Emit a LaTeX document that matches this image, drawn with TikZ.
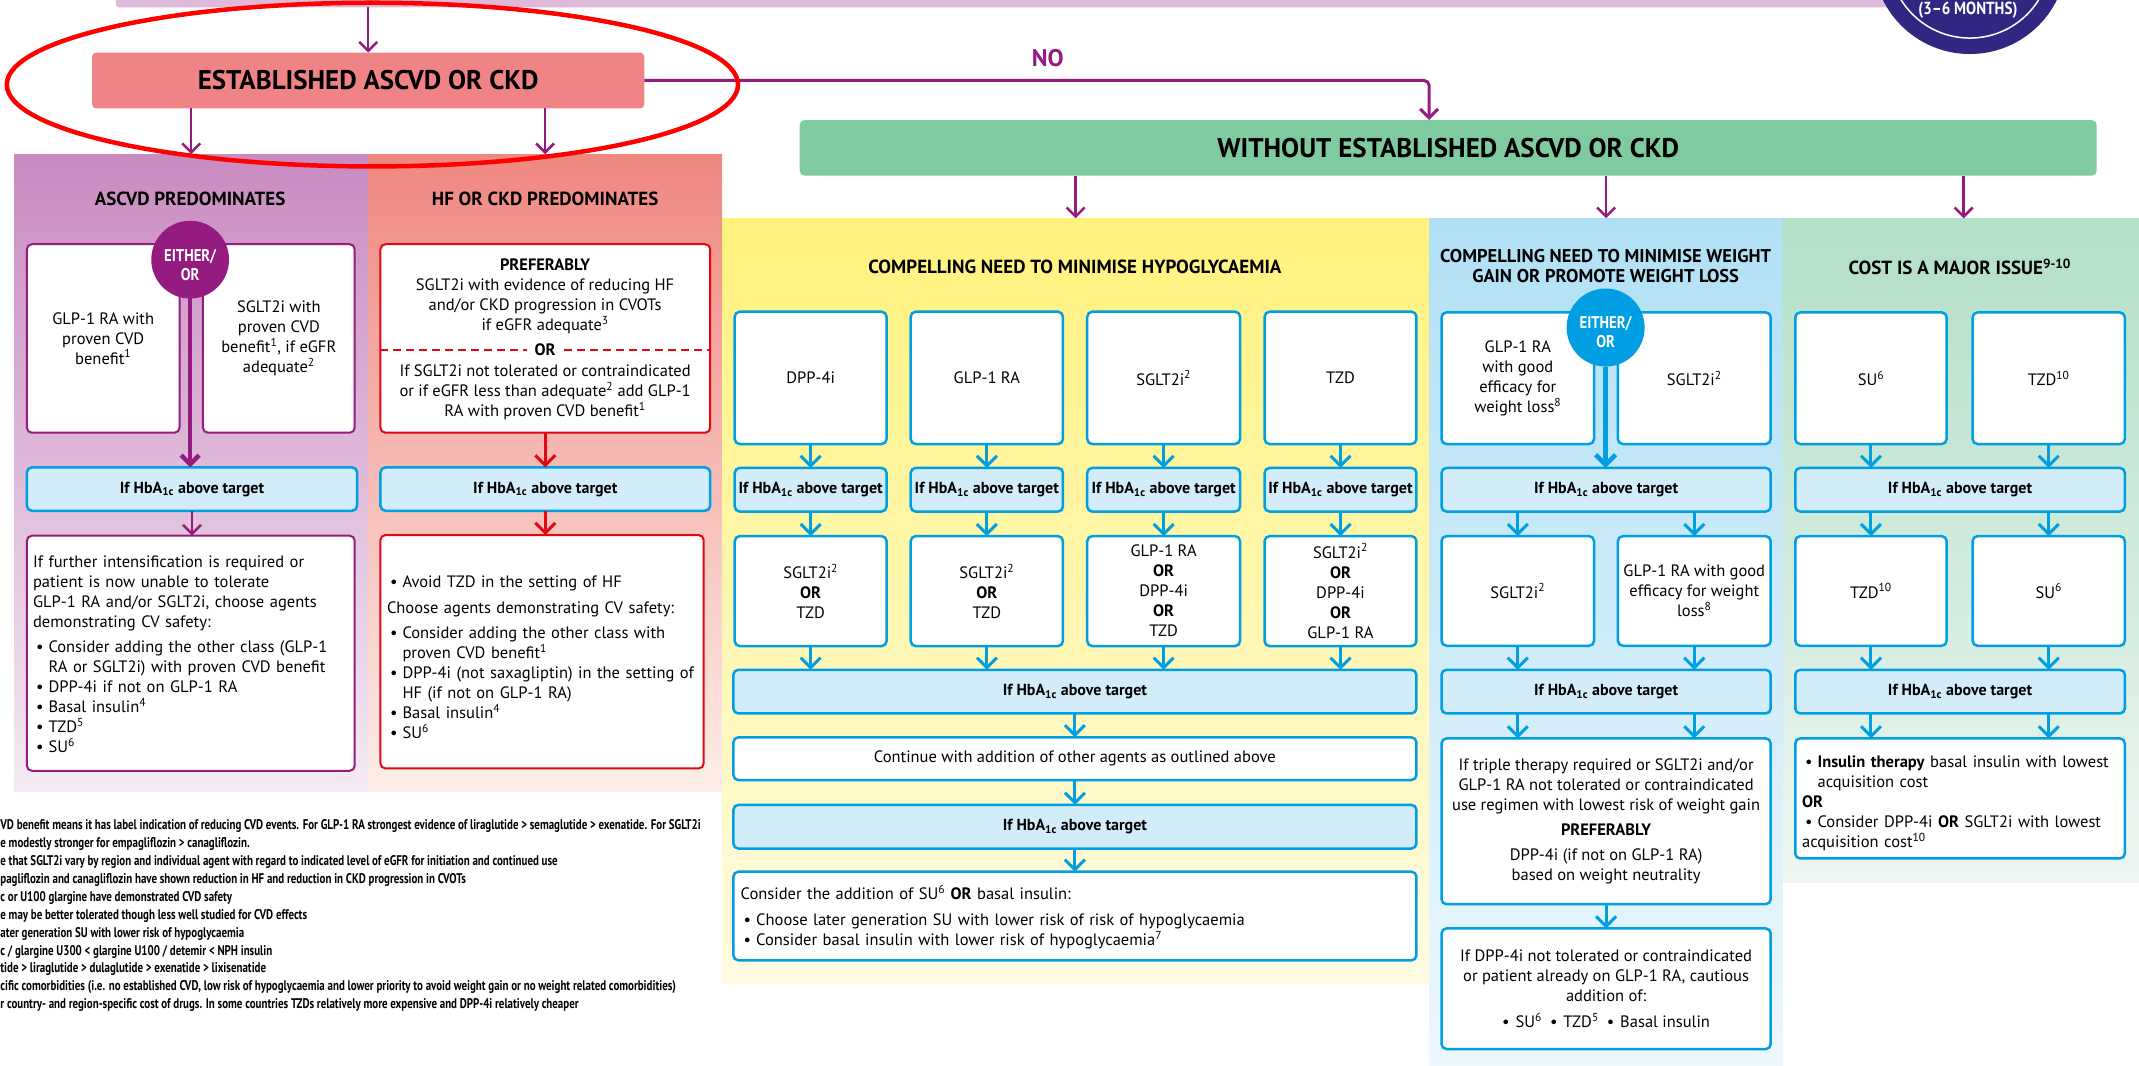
\documentclass[tikz,border=0pt]{standalone}
\usepackage{fontspec}
\setmainfont{PT Sans}
\newfontfamily\cfont{PT Sans}[FakeStretch=0.86]
\newfontfamily\fnfont{PT Sans}[FakeStretch=0.78]
\usetikzlibrary{arrows.meta}
\setlength\parindent{0pt}
\definecolor{cpurple}{HTML}{951B81}
\definecolor{cred}{HTML}{E30613}
\definecolor{cblue}{HTML}{009FE3}
\definecolor{chba}{HTML}{D3ECFA}
\definecolor{cest}{HTML}{F08385}
\definecolor{cwo}{HTML}{80CAA0}
\definecolor{casca}{HTML}{C98BC1}
\definecolor{cascb}{HTML}{F4EAF3}
\definecolor{chfa}{HTML}{F08781}
\definecolor{chfb}{HTML}{FDEEE8}
\definecolor{cyela}{HTML}{FFF27C}
\definecolor{cyelb}{HTML}{FFFBE3}
\definecolor{cblua}{HTML}{B1E0F5}
\definecolor{cblub}{HTML}{EDF8FD}
\definecolor{cgrna}{HTML}{B2DFC7}
\definecolor{cgrnb}{HTML}{EEF6F1}
\definecolor{cband}{HTML}{DFB9DA}
\definecolor{cnavy}{HTML}{312783}
\newcommand\hba{If HbA\textsubscript{1c} above target}
\newcommand\bitem[1]{\par\hangindent=15.5pt\hangafter=1\noindent\makebox[15.5pt][l]{\hspace{3pt}•}#1}
\newcommand\bx[7]{\node[#6, minimum width={((#4)-(#2))*1.3642pt}, minimum height={((#5)-(#3))*1.3642pt}] (#1) at ({((#2)+(#4))/2},{((#3)+(#5))/2}) {#7};}
\tikzset{
  every node/.style={inner sep=0pt, outer sep=0pt, font=\fontsize{16.5}{20}\selectfont},
  wbox/.style={draw, fill=white, rounded corners=5pt, line width=2pt, align=center},
  pbox/.style={wbox, draw=cpurple},
  rbox/.style={wbox, draw=cred},
  bbox/.style={wbox, draw=cblue, line width=2.5pt},
  hbox/.style={bbox, fill=chba, font=\bfseries\fontsize{16}{20}\selectfont},
  ttl/.style={font=\bfseries\fontsize{19}{20}\selectfont, align=center},
  big/.style={font=\bfseries\fontsize{27}{30}\selectfont},
  parr/.style={draw=cpurple, line width=2.5pt, -{Straight Barb[length=9pt,width=18pt]}},
  barr/.style={draw=cblue, line width=3pt, -{Straight Barb[length=10pt,width=20pt]}},
  rarr/.style={draw=cred, line width=3pt, -{Straight Barb[length=10pt,width=20pt]}},
  ltxt/.style={anchor=west, align=left},
  circtxt/.style={text=white, align=center, font=\cfont\bfseries\fontsize{17}{19}\selectfont},
  fn/.style={anchor=west, font=\fnfont\bfseries\fontsize{14}{18}\selectfont},
  rdash/.style={draw=cred, line width=2pt, dash pattern=on 8pt off 5pt}
}
\begin{document}
\begin{tikzpicture}[x=1.3642pt,y=-1.3642pt]
\useasboundingbox (0,0) rectangle (1568,781);
% top band and navy circle
\bx{band}{85}{-10}{1460}{5.4}{fill=cband, rounded corners=3pt}{}
\node[circle, fill=cnavy, minimum size={142.2*1.3642pt}] (navy) at (1444,-31.5) {};
\node[circle, draw=white, line width=1.5pt, minimum size={118.8*1.3642pt}] (ring) at (navy.center) {};
\node[circtxt, font=\cfont\bfseries\fontsize{17.5}{20}\selectfont] (months) at (1442.6,7.5) {(3–6 MONTHS)};
% established
\bx{est}{67.5}{38.6}{472.3}{79.4}{fill=cest, rounded corners=4pt, big}{ESTABLISHED ASCVD OR CKD}
\draw[parr] (band.south -| est.north) -- (est.north);
\node[text=cpurple, font=\bfseries\fontsize{24}{28}\selectfont] (no) at (768,42.8) {NO};
\bx{wo}{586.2}{88}{1537}{128.8}{fill=cwo, rounded corners=5pt, big}{WITHOUT ESTABLISHED ASCVD OR CKD}
\coordinate (nocorner) at (1047.6,59);
\draw[parr, line width=3pt, rounded corners=5pt] (est.east) -- (nocorner) -- (nocorner |- wo.north);
% panels
\bx{ascp}{10.4}{113}{269.9}{580.4}{top color=casca, bottom color=cascb}{}
\bx{hfp}{269.9}{113}{529.3}{580.4}{top color=chfa, bottom color=chfb}{}
\bx{yel}{529.3}{160}{1047.6}{720.7}{top color=cyela, bottom color=cyelb}{}
\bx{blu}{1047.6}{160}{1307}{790}{top color=cblua, bottom color=cblub}{}
\bx{grn}{1307}{160}{1572}{647}{top color=cgrna, bottom color=cgrnb}{}
\draw[parr] (est.south -| ascp.north) -- (ascp.north);
\draw[parr] (est.south -| hfp.north) -- (hfp.north);
\draw[parr] (wo.south -| yel.north) -- (yel.north);
\draw[parr] (wo.south -| blu.north) -- (blu.north);
\draw[parr] (wo.south -| grn.north) -- (grn.north);
% titles
\node[ttl] (asct) at (139.4,146) {ASCVD PREDOMINATES};
\node[ttl] (hft) at (399.6,146) {HF OR CKD PREDOMINATES};
\node[ttl] (yelt) at (788,195.5) {COMPELLING NEED TO MINIMISE HYPOGLYCAEMIA};
\node[ttl, font=\bfseries\fontsize{18.5}{20}\selectfont] (blut) at (1177,195.2) {COMPELLING NEED TO MINIMISE WEIGHT\\GAIN OR PROMOTE WEIGHT LOSS};
\node[ttl] (grnt) at (1436.6,195.5) {COST IS A MAJOR ISSUE\textsuperscript{9-10}};
% ===== ASCVD column
\bx{glp}{19.7}{179}{131.6}{317.2}{pbox}{GLP-1 RA with\\proven CVD\\benefit\textsuperscript{1}}
\bx{sglt}{148.8}{179}{260}{317.2}{pbox}{SGLT2i with\\proven CVD\\benefit\textsuperscript{1}, if eGFR\\adequate\textsuperscript{2}}
\bx{ahba}{19.7}{342.6}{261.8}{374.4}{hbox}{\hba}
\node[circle, fill=cpurple, minimum size={57*1.3642pt}] (pc) at (139.4,190.3) {};
\node[circtxt] (pct) at (139.4,194) {EITHER/\\OR};
\draw[parr, line width=4.5pt] (pc.south) -- (pc.south |- ahba.north);
\bx{abot}{19.7}{392.7}{260}{565}{pbox}{}
\draw[parr] (ahba.south) -- (ahba.south |- abot.north);
\node[ltxt, text width=330pt] (abtxt) at (24.2,479.5) {If further intensification is required or\\
patient is now unable to tolerate\\
GLP-1 RA and/or SGLT2i, choose agents\\
demonstrating CV safety:\par\vspace{5pt}
\bitem{Consider adding the other class (GLP-1\newline RA or SGLT2i) with proven CVD benefit}
\bitem{DPP-4i if not on GLP-1 RA}
\bitem{Basal insulin\textsuperscript{4}}
\bitem{TZD\textsuperscript{5}}
\bitem{SU\textsuperscript{6}}};
% ===== HF column
\bx{hfbox}{278.9}{179}{520.6}{317.2}{rbox}{}
\node[align=center] (hfpref) at (399.6,217.3) {\textbf{PREFERABLY}\\SGLT2i with evidence of reducing HF\\and/or CKD progression in CVOTs\\if eGFR adequate\textsuperscript{3}};
\node[font=\bfseries\fontsize{16.5}{20}\selectfont] (hfor) at (399.6,256.6) {OR};
\draw[rdash] (hfbox.west |- hfor) -- ([xshift=-8pt]hfor.west);
\draw[rdash] ([xshift=8pt]hfor.east) -- (hfbox.east |- hfor);
\node[align=center] (hfalt) at (399.6,287.9) {If SGLT2i not tolerated or contraindicated\\or if eGFR less than adequate\textsuperscript{2} add GLP-1\\RA with proven CVD benefit\textsuperscript{1}};
\bx{hhba}{278.9}{342.6}{520.6}{374.4}{hbox}{\hba}
\draw[rarr] (hfbox.south) -- (hhba.north);
\bx{hbot}{278.9}{392.2}{515.8}{563.3}{rbox}{}
\draw[rarr] (hhba.south) -- (hhba.south |- hbot.north);
\node[ltxt, text width=330pt] (hbtxt) at (283.7,478.8) {\bitem{Avoid TZD in the setting of HF}\par\vspace{5.5pt}
\noindent Choose agents demonstrating CV safety:\par\vspace{5.5pt}
\bitem{Consider adding the other class with\newline proven CVD benefit\textsuperscript{1}}
\bitem{DPP-4i (not saxagliptin) in the setting of\newline HF (if not on GLP-1 RA)}
\bitem{Basal insulin\textsuperscript{4}}
\bitem{SU\textsuperscript{6}}};
% ===== Yellow column
\bx{ya}{538.6}{228.5}{649.9}{325.5}{bbox}{DPP-4i}
\bx{yb}{667.6}{228.5}{779.2}{325.5}{bbox}{GLP-1 RA}
\bx{yc}{797}{228.5}{909}{325.5}{bbox}{SGLT2i\textsuperscript{2}}
\bx{yd}{927}{228.5}{1038.3}{325.5}{bbox}{TZD}
\bx{yha}{538.6}{343}{649.9}{375}{hbox}{\hba}
\bx{yhb}{667.6}{343}{779.2}{375}{hbox}{\hba}
\bx{yhc}{797}{343}{909}{375}{hbox}{\hba}
\bx{yhd}{927}{343}{1038.3}{375}{hbox}{\hba}
\bx{yra}{538.6}{393}{649.9}{473.6}{bbox}{SGLT2i\textsuperscript{2}\\\textbf{OR}\\TZD}
\bx{yrb}{667.6}{393}{779.2}{473.6}{bbox}{SGLT2i\textsuperscript{2}\\\textbf{OR}\\TZD}
\bx{yrc}{797}{393}{909}{473.6}{bbox}{GLP-1 RA\\\textbf{OR}\\DPP-4i\\\textbf{OR}\\TZD}
\bx{yrd}{927}{393}{1038.3}{473.6}{bbox}{SGLT2i\textsuperscript{2}\\\textbf{OR}\\DPP-4i\\\textbf{OR}\\GLP-1 RA}
\foreach \c in {a,b,c,d}{
  \draw[barr] (y\c.south) -- (yh\c.north);
  \draw[barr] (yh\c.south) -- (yr\c.north);
}
\bx{yw1}{537.6}{491}{1038.3}{523}{hbox}{\hba}
\foreach \c in {a,b,c,d}{\draw[barr] (yr\c.south) -- (yr\c.south |- yw1.north);}
\bx{ycont}{537.6}{540.5}{1038.3}{571.8}{bbox}{Continue with addition of other agents as outlined above}
\draw[barr] (yw1.south) -- (ycont.north);
\bx{yw2}{537.6}{590}{1038.3}{622}{hbox}{\hba}
\draw[barr] (ycont.south) -- (yw2.north);
\bx{ycons}{537.6}{639}{1038.3}{704}{bbox}{}
\draw[barr] (yw2.south) -- (ycons.north);
\node[ltxt, text width=660pt] (yctxt) at (543,672.3) {Consider the addition of SU\textsuperscript{6} \textbf{OR} basal insulin:\par\vspace{5.5pt}
\bitem{Choose later generation SU with lower risk of risk of hypoglycaemia}
\bitem{Consider basal insulin with lower risk of hypoglycaemia\textsuperscript{7}}};
% ===== Blue column
\bx{ba}{1056.7}{229}{1168.5}{325.5}{bbox}{GLP-1 RA\\with good\\efficacy for\\weight loss\textsuperscript{8}}
\bx{bb}{1186}{229}{1298}{325.5}{bbox}{SGLT2i\textsuperscript{2}}
\bx{bh1}{1056.7}{343}{1298}{375}{hbox}{\hba}
\node[circle, fill=cblue, minimum size={57.2*1.3642pt}] (bc) at (1177,240.1) {};
\node[circtxt] (bct) at (1177,243.5) {EITHER/\\OR};
\draw[barr, line width=4.5pt] (bc.south) -- (bc.south |- bh1.north);
\bx{bra}{1056.7}{393}{1168.5}{473.4}{bbox}{SGLT2i\textsuperscript{2}}
\bx{brb}{1186}{393}{1298}{473.4}{bbox}{GLP-1 RA with good\\efficacy for weight\\loss\textsuperscript{8}}
\draw[barr] (bh1.south -| bra.north) -- (bra.north);
\draw[barr] (bh1.south -| brb.north) -- (brb.north);
\bx{bh2}{1056.7}{491}{1298}{523}{hbox}{\hba}
\draw[barr] (bra.south) -- (bra.south |- bh2.north);
\draw[barr] (brb.south) -- (brb.south |- bh2.north);
\bx{bbig}{1056.7}{541.3}{1298}{662.8}{bbox}{If triple therapy required or SGLT2i and/or\\GLP-1 RA not tolerated or contraindicated\\use regimen with lowest risk of weight gain\\[5pt]\textbf{PREFERABLY}\\[5pt]DPP-4i (if not on GLP-1 RA)\\based on weight neutrality}
\draw[barr] (bh2.south -| bra.south) -- (bra.south |- bbig.north);
\draw[barr] (bh2.south -| brb.south) -- (brb.south |- bbig.north);
\bx{bsm}{1056.7}{680.6}{1298}{769}{bbox}{If DPP-4i not tolerated or contraindicated\\or patient already on GLP-1 RA, cautious\\addition of:\\[6pt]•\hspace{6pt}SU\textsuperscript{6}\hspace{8pt}•\hspace{6pt}TZD\textsuperscript{5}\hspace{8pt}•\hspace{6pt}Basal insulin}
\draw[barr] (bbig.south) -- (bsm.north);
% ===== Green column
\bx{ga}{1316}{229}{1427}{325.5}{bbox}{SU\textsuperscript{6}}
\bx{gb}{1446}{229}{1557.6}{325.5}{bbox}{TZD\textsuperscript{10}}
\bx{gh1}{1316}{343}{1557.6}{375}{hbox}{\hba}
\draw[barr] (ga.south) -- (ga.south |- gh1.north);
\draw[barr] (gb.south) -- (gb.south |- gh1.north);
\bx{gra}{1316}{393}{1427}{473.4}{bbox}{TZD\textsuperscript{10}}
\bx{grb}{1446}{393}{1557.6}{473.4}{bbox}{SU\textsuperscript{6}}
\draw[barr] (gh1.south -| gra.north) -- (gra.north);
\draw[barr] (gh1.south -| grb.north) -- (grb.north);
\bx{gh2}{1316}{491}{1557.6}{523}{hbox}{\hba}
\draw[barr] (gra.south) -- (gra.south |- gh2.north);
\draw[barr] (grb.south) -- (grb.south |- gh2.north);
\bx{gbig}{1316}{541.3}{1557.6}{629.3}{bbox}{}
\draw[barr] (gh2.south -| gra.south) -- (gra.south |- gbig.north);
\draw[barr] (gh2.south -| grb.south) -- (grb.south |- gbig.north);
\node[ltxt, text width=320pt] (gtxt) at (1321,586) {\bitem{\textbf{Insulin therapy} basal insulin with lowest\newline acquisition cost}
\par\noindent\textbf{OR}
\bitem{Consider DPP-4i \textbf{OR} SGLT2i with lowest\newline acquisition cost\textsuperscript{10}}};
% ===== footnotes
\node[fn] (f1) at (0.3,605.3) {VD benefit means it has label indication of reducing CVD events. For GLP-1 RA strongest evidence of liraglutide > semaglutide > exenatide. For SGLT2i};
\node[fn] (f2) at (0.3,618.8) {e modestly stronger for empagliflozin > canagliflozin.};
\node[fn] (f3) at (0.3,631.7) {e that SGLT2i vary by region and individual agent with regard to indicated level of eGFR for initiation and continued use};
\node[fn] (f4) at (0.3,645.1) {pagliflozin and canagliflozin have shown reduction in HF and reduction in CKD progression in CVOTs};
\node[fn] (f5) at (0.3,658.1) {c or U100 glargine have demonstrated CVD safety};
\node[fn] (f6) at (0.3,671.3) {e may be better tolerated though less well studied for CVD effects};
\node[fn] (f7) at (0.3,684.7) {ater generation SU with lower risk of hypoglycaemia};
\node[fn] (f8) at (0.3,697.7) {c / glargine U300 < glargine U100 / detemir < NPH insulin};
\node[fn] (f9) at (0.3,710.6) {tide > liraglutide > dulaglutide > exenatide > lixisenatide};
\node[fn] (f10) at (0.3,723.8) {cific comorbidities (i.e. no established CVD, low risk of hypoglycaemia and lower priority to avoid weight gain or no weight related comorbidities)};
\node[fn] (f11) at (0.3,737) {r country- and region-specific cost of drugs. In some countries TZDs relatively more expensive and DPP-4i relatively cheaper};
% red annotation ellipse
\draw[red, line width=4.5pt] (273,62) ellipse [x radius=268, y radius=60];
\end{tikzpicture}
\end{document}
